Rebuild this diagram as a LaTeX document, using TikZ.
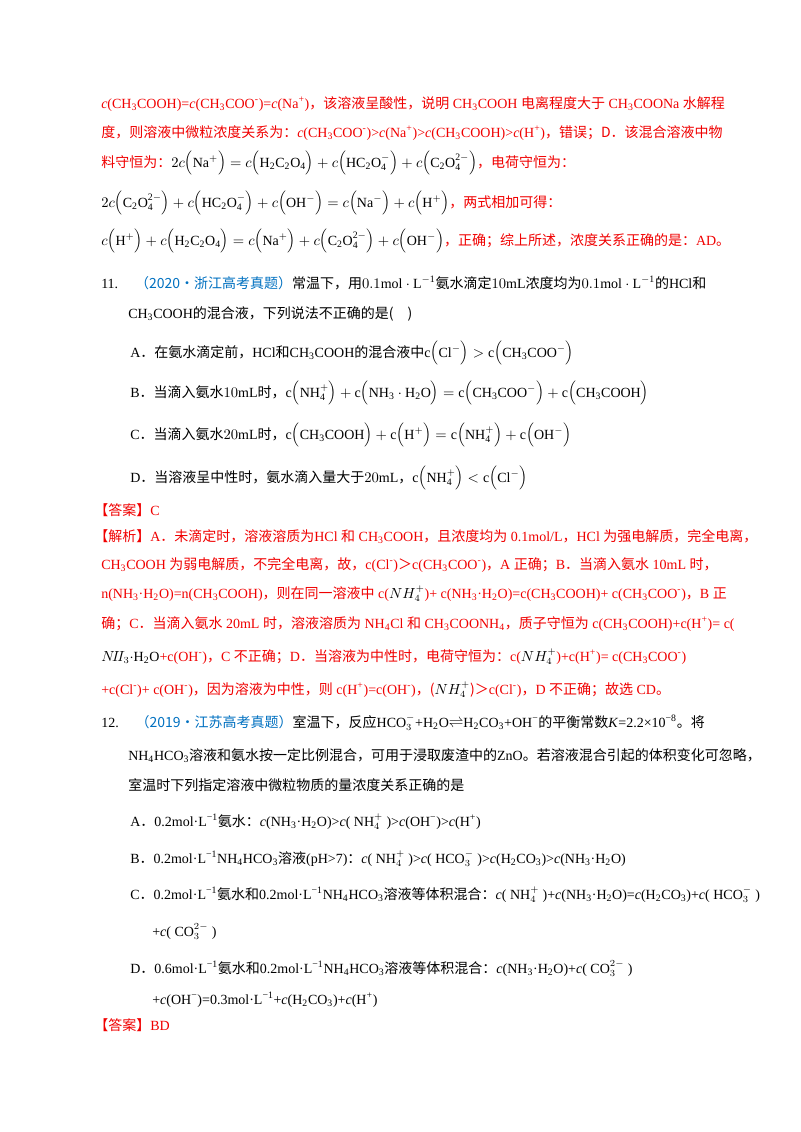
\documentclass[tikz,border=0pt]{standalone}
\usepackage{fontspec}
\setmainfont{Liberation Serif}
\newfontfamily\cjk{Noto Sans CJK SC}
\newcommand\cj[1]{{\cjk #1}}
\newcommand\ce[1]{\mathrm{#1}}
\definecolor{rd}{RGB}{240,0,0}
\definecolor{bl}{RGB}{0,112,192}
\tikzset{ln/.style={anchor=base west,inner sep=0pt,font=\fontsize{10.5}{12}\selectfont}, r/.style={ln,text=rd}}
\begin{document}
\begin{tikzpicture}[x=0.75pt,y=-0.75pt]
\useasboundingbox (0,0) rectangle (800,1132);
\node[r] (l1) at (101,108) {\textit{c}(CH\textsubscript{3}COOH)=\textit{c}(CH\textsubscript{3}COO\textsuperscript{-})=\textit{c}(Na\textsuperscript{+})\cj{，该溶液呈酸性，说明} CH\textsubscript{3}COOH \cj{电离程度大于} CH\textsubscript{3}COONa \cj{水解程}};
\node[r] (l2) at (101,137) {\cj{度，则溶液中微粒浓度关系为：}\textit{c}(CH\textsubscript{3}COO\textsuperscript{-})>\textit{c}(Na\textsuperscript{+})>\textit{c}(CH\textsubscript{3}COOH)>\textit{c}(H\textsuperscript{+})\cj{，错误；D．该混合溶液中物}};
\node[r] (l3) at (101,167) {\cj{料守恒为：}\textcolor{black}{$2c\Big(\ce{Na^+}\Big)=c\Big(\ce{H_2C_2O_4}\Big)+c\Big(\ce{HC_2O_4^-}\Big)+c\Big(\ce{C_2O_4^{2-}}\Big)$}\cj{，电荷守恒为：}};
\node[r] (l4) at (101,207) {\textcolor{black}{$2c\Big(\ce{C_2O_4^{2-}}\Big)+c\Big(\ce{HC_2O_4^-}\Big)+c\Big(\ce{OH^-}\Big)=c\Big(\ce{Na^-}\Big)+c\Big(\ce{H^+}\Big)$}\cj{，两式相加可得：}};
\node[r] (l5) at (101,245) {\textcolor{black}{$c\Big(\ce{H^+}\Big)+c\Big(\ce{H_2C_2O_4}\Big)=c\Big(\ce{Na^+}\Big)+c\Big(\ce{C_2O_4^{2-}}\Big)+c\Big(\ce{OH^-}\Big)$}\cj{，正确；综上所述，浓度关系正确的是：}AD\cj{。}};
\node[ln] (q11) at (101,288) {11.\hspace{1.2em}\textcolor{bl}{\cj{（2020·浙江高考真题）}}\cj{常温下，用}$0.1\ce{mol\cdot L^{-1}}$\cj{氨水滴定}$10\ce{mL}$\cj{浓度均为}$0.1\ce{mol\cdot L^{-1}}$\cj{的}$\ce{HCl}$\cj{和}};
\node[ln] (q11b) at (128,318) {$\ce{CH_3COOH}$\cj{的混合液，下列说法不正确的是(\hspace{1em})}};
\node[ln] (a) at (130,357) {A\cj{．在氨水滴定前，}$\ce{HCl}$\cj{和}$\ce{CH_3COOH}$\cj{的混合液中}$\ce{c}\Big(\ce{Cl^-}\Big)>\ce{c}\Big(\ce{CH_3COO^-}\Big)$};
\node[ln] (b) at (130,397) {B\cj{．当滴入氨水}$10\ce{mL}$\cj{时，}$\ce{c}\Big(\ce{NH_4^+}\Big)+\ce{c}\Big(\ce{NH_3\cdot H_2O}\Big)=\ce{c}\Big(\ce{CH_3COO^-}\Big)+\ce{c}\Big(\ce{CH_3COOH}\Big)$};
\node[ln] (c) at (130,439) {C\cj{．当滴入氨水}$20\ce{mL}$\cj{时，}$\ce{c}\Big(\ce{CH_3COOH}\Big)+\ce{c}\Big(\ce{H^+}\Big)=\ce{c}\Big(\ce{NH_4^+}\Big)+\ce{c}\Big(\ce{OH^-}\Big)$};
\node[ln] (d) at (130,482) {D\cj{．当溶液呈中性时，氨水滴入量大于}$20\ce{mL}$\cj{，}$\ce{c}\Big(\ce{NH_4^+}\Big)<\ce{c}\Big(\ce{Cl^-}\Big)$};
\node[r] (ans) at (94,515) {\cj{【答案】}C};
\node[r] (j1) at (94,541) {\cj{【解析】}A\cj{．未滴定时，溶液溶质为}HCl \cj{和} CH\textsubscript{3}COOH\cj{，且浓度均为} 0.1mol/L\cj{，}HCl \cj{为强电解质，完全电离，}};
\node[r] (j2) at (101,569) {CH\textsubscript{3}COOH \cj{为弱电解质，不完全电离，故，}c(Cl\textsuperscript{-})\cj{＞}c(CH\textsubscript{3}COO\textsuperscript{-})\cj{，}A \cj{正确；}B\cj{．当滴入氨水} 10mL \cj{时，}};
\node[r] (j3) at (101,598) {n(NH\textsubscript{3}·H\textsubscript{2}O)=n(CH\textsubscript{3}COOH)\cj{，则在同一溶液中} c(\textcolor{black}{$NH_4^+$})+ c(NH\textsubscript{3}·H\textsubscript{2}O)=c(CH\textsubscript{3}COOH)+ c(CH\textsubscript{3}COO\textsuperscript{-})\cj{，}B \cj{正}};
\node[r] (j4) at (101,628) {\cj{确；}C\cj{．当滴入氨水} 20mL \cj{时，溶液溶质为} NH\textsubscript{4}Cl \cj{和} CH\textsubscript{3}COONH\textsubscript{4}\cj{，质子守恒为} c(CH\textsubscript{3}COOH)+c(H\textsuperscript{+})= c(};
\node[r] (j5) at (101,661) {\textcolor{black}{$N\!I\!I_3{\cdot}\ce{H_2O}$}+c(OH\textsuperscript{-})\cj{，}C \cj{不正确；}D\cj{．当溶液为中性时，电荷守恒为：}c(\textcolor{black}{$NH_4^+$})+c(H\textsuperscript{+})= c(CH\textsubscript{3}COO\textsuperscript{-})};
\node[r] (j6) at (101,694) {+c(Cl\textsuperscript{-})+ c(OH\textsuperscript{-})\cj{，因为溶液为中性，则} c(H\textsuperscript{+})=c(OH\textsuperscript{-})\cj{，(}\textcolor{black}{$NH_4^+$}\cj{)＞}c(Cl\textsuperscript{-})\cj{，}D \cj{不正确；故选} CD\cj{。}};
\node[ln] (q12) at (101,727) {12.\hspace{1.2em}\textcolor{bl}{\cj{（2019·江苏高考真题）}}\cj{室温下，反应}HCO$_3^-$+H\textsubscript{2}O$\rightleftharpoons$H\textsubscript{2}CO\textsubscript{3}+OH\textsuperscript{−}\cj{的平衡常数}\textit{K}=2.2×10\textsuperscript{−8}\cj{。将}};
\node[ln] (q12b) at (128,760) {NH\textsubscript{4}HCO\textsubscript{3}\cj{溶液和氨水按一定比例混合，可用于浸取废渣中的}ZnO\cj{。若溶液混合引起的体积变化可忽略，}};
\node[ln] (q12c) at (128,790) {\cj{室温时下列指定溶液中微粒物质的量浓度关系正确的是}};
\node[ln] (a2) at (130,826) {A\cj{．}0.2mol·L\textsuperscript{−1}\cj{氨水：}\textit{c}(NH\textsubscript{3}·H\textsubscript{2}O)>\textit{c}( NH$_4^+$ )>\textit{c}(OH\textsuperscript{−})>\textit{c}(H\textsuperscript{+})};
\node[ln] (b2) at (130,863) {B\cj{．}0.2mol·L\textsuperscript{−1}NH\textsubscript{4}HCO\textsubscript{3}\cj{溶液}(pH>7)\cj{：}\textit{c}( NH$_4^+$ )>\textit{c}( HCO$_3^-$ )>\textit{c}(H\textsubscript{2}CO\textsubscript{3})>\textit{c}(NH\textsubscript{3}·H\textsubscript{2}O)};
\node[ln] (c2) at (130,899) {C\cj{．}0.2mol·L\textsuperscript{−1}\cj{氨水和}0.2mol·L\textsuperscript{−1}NH\textsubscript{4}HCO\textsubscript{3}\cj{溶液等体积混合：}\textit{c}( NH$_4^+$ )+\textit{c}(NH\textsubscript{3}·H\textsubscript{2}O)=\textit{c}(H\textsubscript{2}CO\textsubscript{3})+\textit{c}( HCO$_3^-$ )};
\node[ln] (c2b) at (152,936) {+\textit{c}( CO$_3^{2-}$ )};
\node[ln] (d2) at (130,973) {D\cj{．}0.6mol·L\textsuperscript{−1}\cj{氨水和}0.2mol·L\textsuperscript{−1}NH\textsubscript{4}HCO\textsubscript{3}\cj{溶液等体积混合：}\textit{c}(NH\textsubscript{3}·H\textsubscript{2}O)+\textit{c}( CO$_3^{2-}$ )};
\node[ln] (d2b) at (152,1004) {+\textit{c}(OH\textsuperscript{−})=0.3mol·L\textsuperscript{−1}+\textit{c}(H\textsubscript{2}CO\textsubscript{3})+\textit{c}(H\textsuperscript{+})};
\node[r] (ans2) at (94,1030) {\cj{【答案】}BD};
\end{tikzpicture}
\end{document}
